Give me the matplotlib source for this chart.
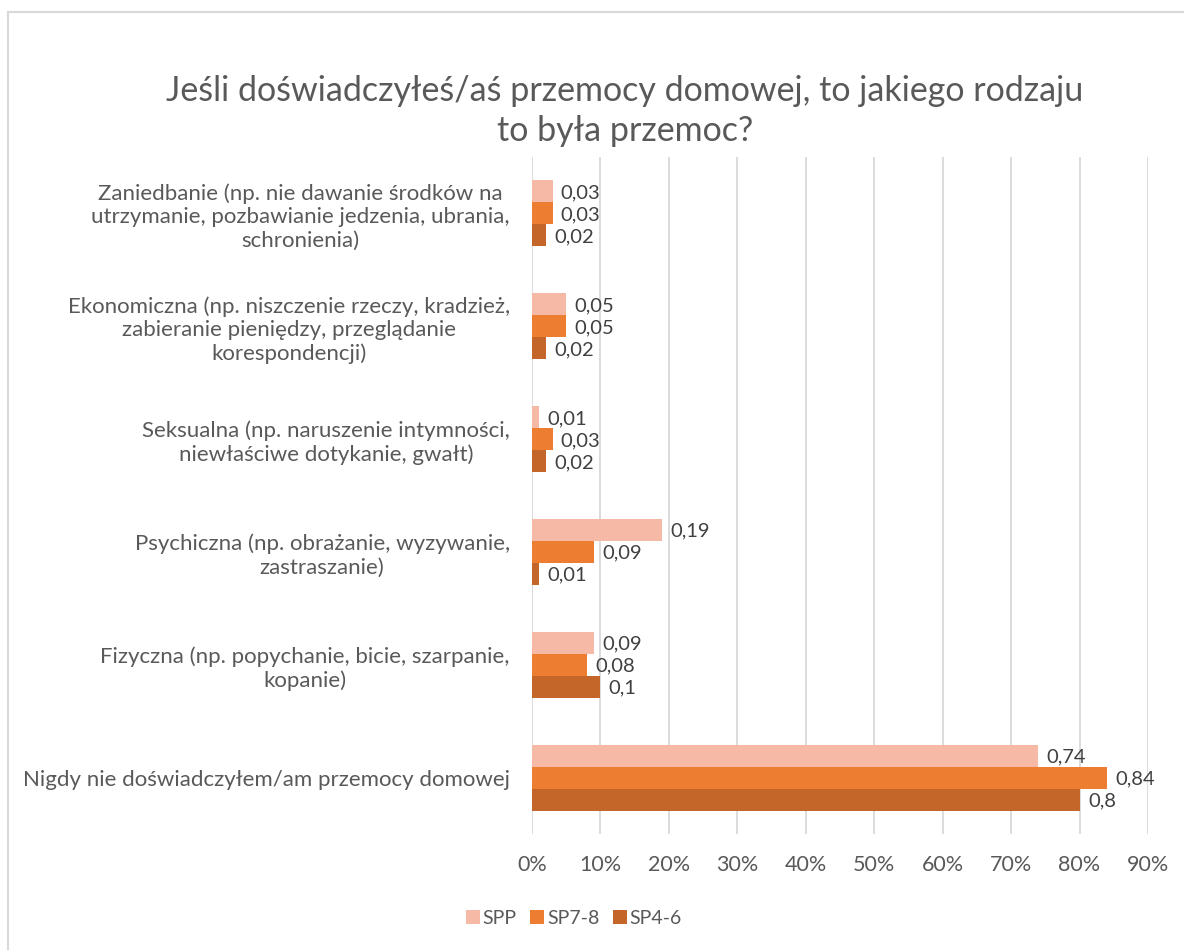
import matplotlib
matplotlib.use("Agg")
import matplotlib.pyplot as plt
import numpy as np
from matplotlib.lines import Line2D

plt.rcParams['font.family'] = ['Lato', 'DejaVu Sans']

categories = [
    "Zaniedbanie (np. nie dawanie środków na\nutrzymanie, pozbawianie jedzenia, ubrania,\nschronienia)",
    "Ekonomiczna (np. niszczenie rzeczy, kradzież,\nzabieranie pieniędzy, przeglądanie\nkorespondencji)",
    "Seksualna (np. naruszenie intymności,\nniewłaściwe dotykanie, gwałt)",
    "Psychiczna (np. obrażanie, wyzywanie,\nzastraszanie)",
    "Fizyczna (np. popychanie, bicie, szarpanie,\nkopanie)",
    "Nigdy nie doświadczyłem/am przemocy domowej",
]
series_names = ["SPP", "SP7-8", "SP4-6"]
spp = [0.03, 0.05, 0.01, 0.19, 0.09, 0.74]
sp78 = [0.03, 0.05, 0.03, 0.09, 0.08, 0.84]
sp46 = [0.02, 0.02, 0.02, 0.01, 0.10, 0.80]
colors = ["#F5B9A5", "#ED7D31", "#C4652A"]
xticks = [0, 0.1, 0.2, 0.3, 0.4, 0.5, 0.6, 0.7, 0.8, 0.9]

W, H = 1184, 950
fig = plt.figure(figsize=(W / 100, H / 100), dpi=100)
ax = fig.add_axes([532 / W, 1 - 834 / H, 616 / W, 677 / H])

y = np.arange(len(categories))
h = 0.195
for i, (vals, col, name) in enumerate(zip([spp, sp78, sp46], colors, series_names)):
    bars = ax.barh(y + (i - 1) * h, vals, height=h, color=col, label=name)
    for b, v in zip(bars, vals):
        txt = ("%g" % v).replace(".", ",")
        ax.annotate(txt, (b.get_width(), b.get_y() + b.get_height() / 2),
                    xytext=(6, -1), textcoords="offset points",
                    ha="left", va="center", fontsize=14.5, color="#404040")

ax.set_xlim(0, 0.9)
ax.set_ylim(len(categories) - 0.5, -0.5)
ax.set_xticks(xticks)
ax.set_xticklabels(["%d%%" % round(t * 100) for t in xticks])
ax.set_yticks(y)
ax.set_yticklabels(categories, multialignment="center", fontsize=16)
ax.tick_params(axis="both", length=0, labelcolor="#595959")
ax.tick_params(axis="x", pad=15, labelsize=15.5)
ax.tick_params(axis="y", pad=16)
ax.grid(axis="x", color="#D9D9D9", linewidth=1.3)
ax.set_axisbelow(True)
for s in ax.spines.values():
    s.set_visible(False)

fig.text(625 / W, 1 - 111 / H,
         "Jeśli doświadczyłeś/aś przemocy domowej, to jakiego rodzaju\nto była przemoc?",
         ha="center", va="center", fontsize=24.5, color="#595959", linespacing=1.3)

fig.legend(loc="center", bbox_to_anchor=(574 / W, 1 - 918 / H), ncol=3, frameon=False,
           fontsize=14, labelcolor="#595959", handlelength=0.7, handleheight=0.7,
           handletextpad=0.15, columnspacing=0.7)

# chart border (left and top visible)
fig.add_artist(Line2D([8 / W, 8 / W], [0, 1 - 12 / H], color="#D9D9D9", linewidth=1.5,
                      transform=fig.transFigure))
fig.add_artist(Line2D([8 / W, 1], [1 - 12 / H, 1 - 12 / H], color="#D9D9D9", linewidth=1.5,
                      transform=fig.transFigure))

fig.savefig("out.png", dpi=100)
